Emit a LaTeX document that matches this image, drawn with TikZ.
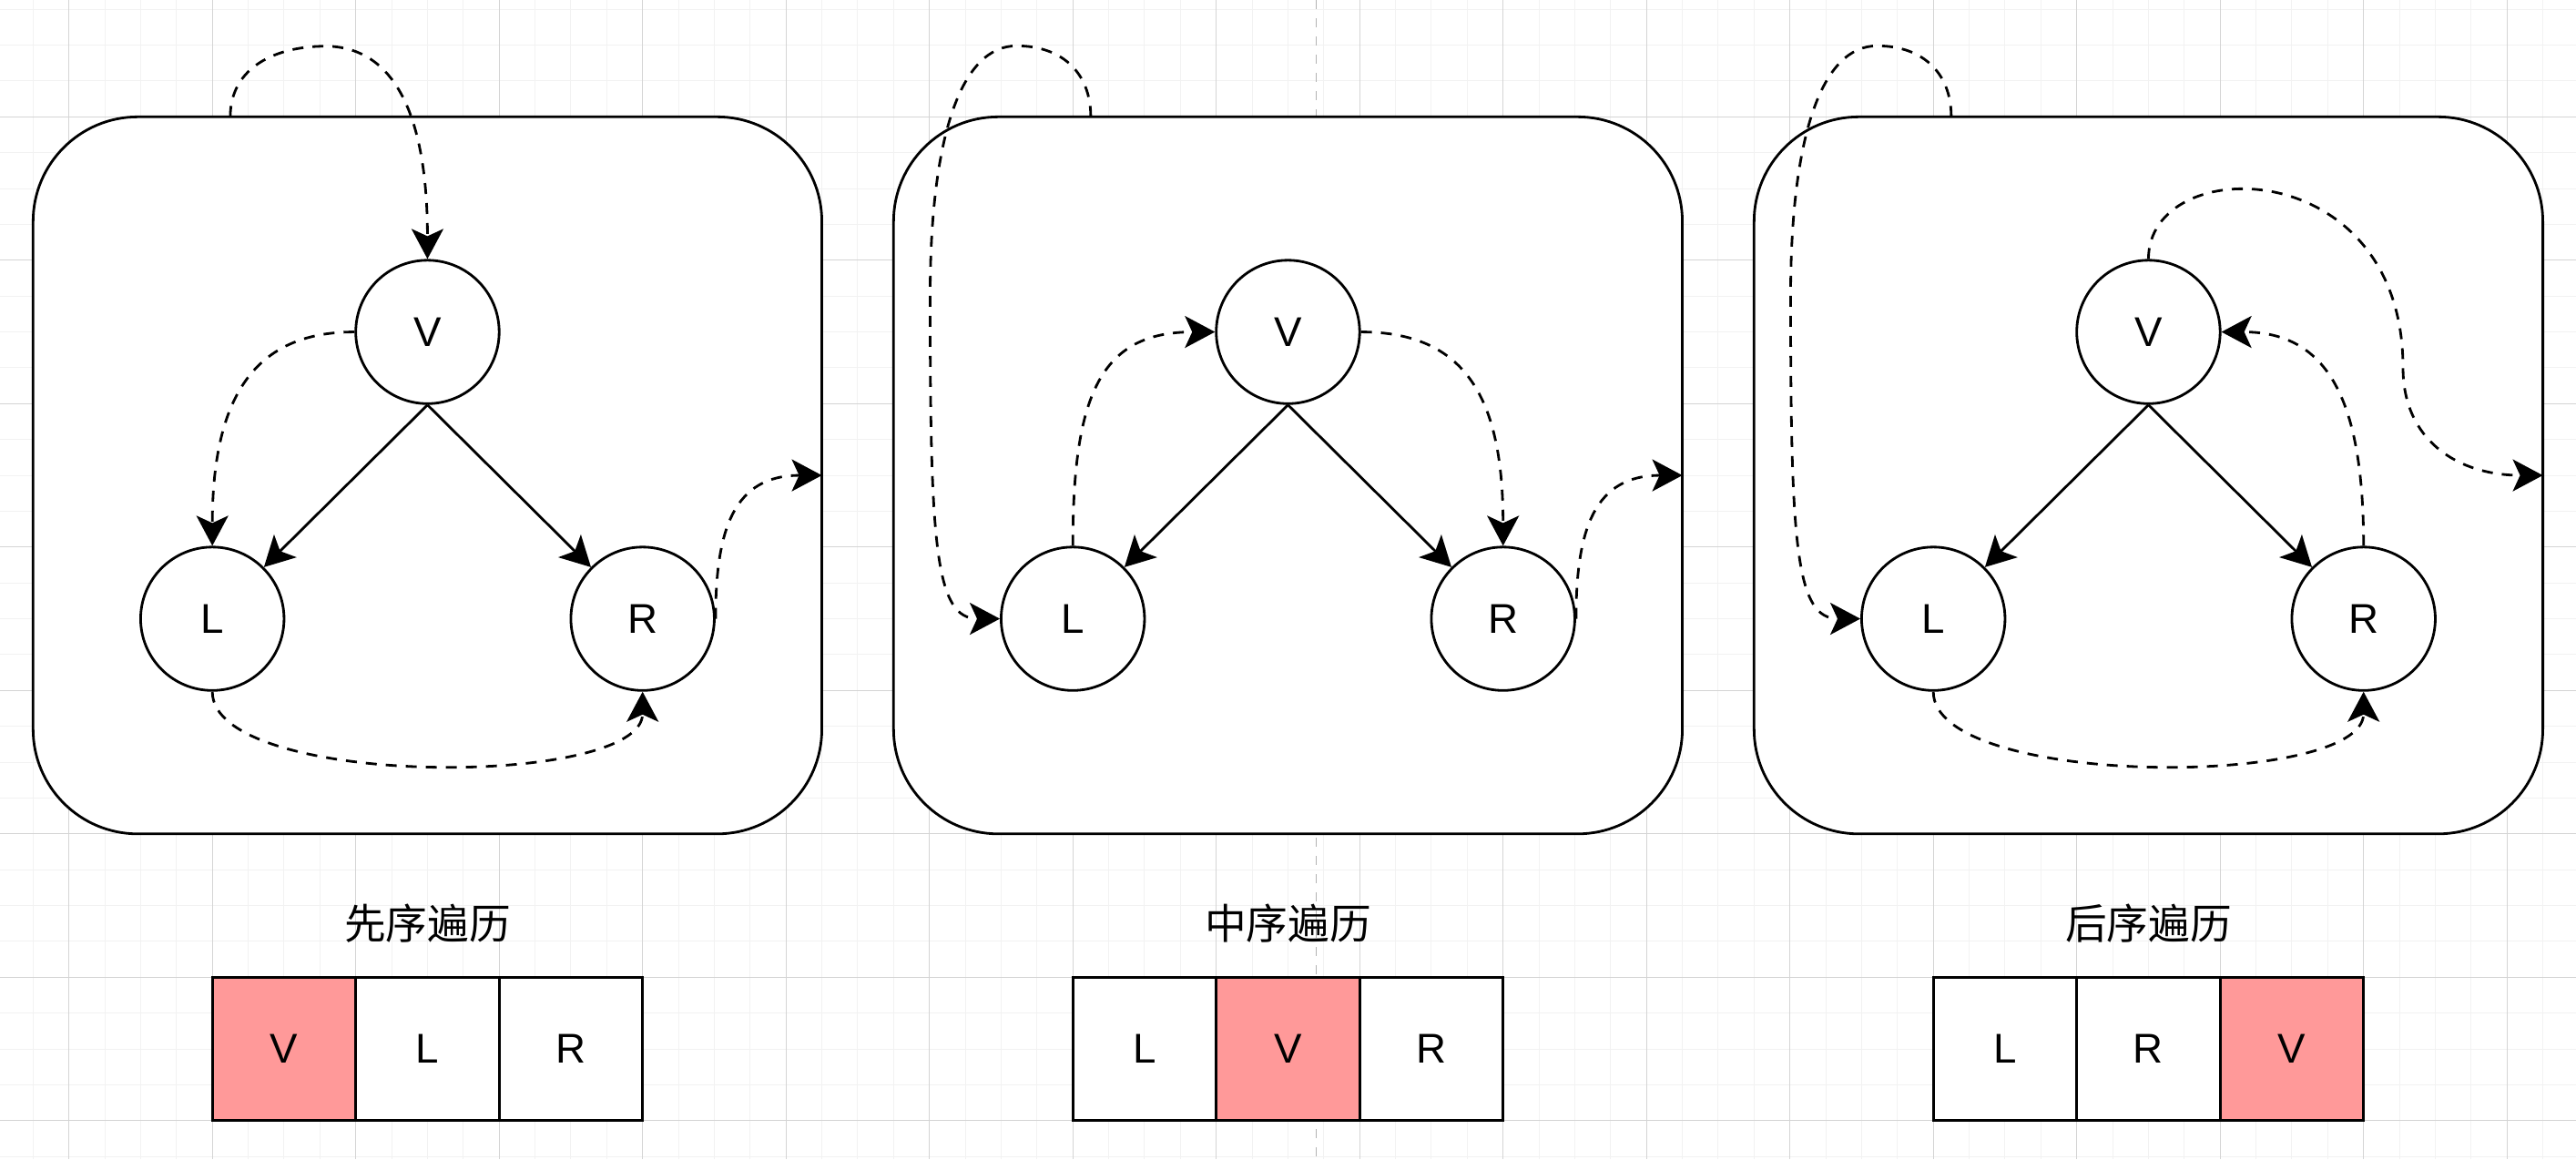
\documentclass[tikz,border=0pt]{standalone}
\usepackage{fontspec}
\setmainfont{Liberation Sans}
\newfontfamily\cjkfont{Noto Sans CJK SC}
\usetikzlibrary{arrows.meta}
\definecolor{vpink}{HTML}{FF9999}
\definecolor{gridminor}{HTML}{F2F2F2}
\definecolor{gridmajor}{HTML}{D4D4D4}
\tikzset{panel/.style={draw,line width=0.8pt,fill=white,rounded corners=1.15cm,minimum width=8.6625cm,minimum height=7.875cm,inner sep=0pt}}
\tikzset{vtx/.style={draw,circle,fill=white,line width=0.8pt,minimum size=1.575cm,inner sep=0pt,font=\fontsize{13}{15}\selectfont}}
\tikzset{cell/.style={draw,fill=white,line width=0.8pt,minimum size=1.575cm,inner sep=0pt,font=\fontsize{13}{15}\selectfont}}
\tikzset{hit/.style={cell,fill=vpink}}
\tikzset{ttl/.style={font=\cjkfont\fontsize{13}{15}\selectfont}}
\tikzset{link/.style={line width=0.8pt,-{Stealth[length=0.33cm,width=0.35cm,inset=0.08cm]}}}
\tikzset{walk/.style={link,dash pattern=on 0.12cm off 0.1cm}}
\begin{document}
\begin{tikzpicture}[x=0.39375cm,y=-0.39375cm]
    \useasboundingbox (-1.9225,-3.2584) rectangle (69.925,29.072);
    \foreach \i in {-1,...,69} \draw[gridminor,line width=0.3pt] (\i,-3.2584) -- (\i,29.072);
    \foreach \j in {-3,...,29} \draw[gridminor,line width=0.3pt] (-1.9225,\j) -- (69.925,\j);
    \foreach \i in {0,4,...,68} \draw[gridmajor,line width=0.3pt] (\i,-3.2584) -- (\i,29.072);
    \foreach \j in {0,4,...,28} \draw[gridmajor,line width=0.3pt] (-1.9225,\j) -- (69.925,\j);
    \draw[black!30,line width=0.3pt,dash pattern=on 0.1cm off 0.1cm] (34.78,-3.2584) -- (34.78,29.072);
    \begin{scope}
      \node[panel] (box1) at (10,10) {};
      \node[vtx] (v1) at (10,6) {V};
      \node[vtx] (l1) at (4,14) {L};
      \node[vtx] (r1) at (16,14) {R};
      \draw[link] (v1.south) -- (l1.north east);
      \draw[link] (v1.south) -- (r1.north west);
      \coordinate (in1) at (4.5,0);
      \coordinate (out1) at (21,10);
      \draw[walk] (in1) .. controls +(0,-1.4) and +(-1.35,0) .. (7.15,-1.97) .. controls +(1.65,0) and +(0,-4.5) .. (v1.north);
      \draw[walk] (v1.west) .. controls +(-2.65,0) and +(0,-4.34) .. (l1.north);
      \draw[walk] (l1.south) .. controls +(0,2.7) and +(0,2.7) .. (r1.south);
      \draw[walk] (r1.east) .. controls +(0,-2.53) and +(-2.44,0) .. (out1);
      \node[ttl] (title1) at (10,22.5) {先序遍历};
      \node[hit] (c11) at (6,26) {V};
      \node[cell] (c12) at (10,26) {L};
      \node[cell] (c13) at (14,26) {R};
    \end{scope}
    \begin{scope}[shift={(24,0)}]
      \node[panel] (box2) at (10,10) {};
      \node[vtx] (v2) at (10,6) {V};
      \node[vtx] (l2) at (4,14) {L};
      \node[vtx] (r2) at (16,14) {R};
      \draw[link] (v2.south) -- (l2.north east);
      \draw[link] (v2.south) -- (r2.north west);
      \coordinate (in2) at (4.5,0);
      \coordinate (out2) at (21,10);
      \draw[walk] (in2) .. controls +(0,-1.2) and +(1.3,0) .. (2.43,-1.98) .. controls +(-1.53,0) and +(0,-4.5) .. (0.02,5) .. controls +(0,7) and +(-1.8,0) .. (l2.west);
      \draw[walk] (l2.north) .. controls +(0,-4.2) and +(-3.2,0) .. (v2.west);
      \draw[walk] (v2.east) .. controls +(3,0) and +(0,-4) .. (r2.north);
      \draw[walk] (r2.east) .. controls +(0,-2.53) and +(-2.44,0) .. (out2);
      \node[ttl] (title2) at (10,22.5) {中序遍历};
      \node[cell] (c21) at (6,26) {L};
      \node[hit] (c22) at (10,26) {V};
      \node[cell] (c23) at (14,26) {R};
    \end{scope}
    \begin{scope}[shift={(48,0)}]
      \node[panel] (box3) at (10,10) {};
      \node[vtx] (v3) at (10,6) {V};
      \node[vtx] (l3) at (4,14) {L};
      \node[vtx] (r3) at (16,14) {R};
      \draw[link] (v3.south) -- (l3.north east);
      \draw[link] (v3.south) -- (r3.north west);
      \coordinate (in3) at (4.5,0);
      \coordinate (out3) at (21,10);
      \draw[walk] (in3) .. controls +(0,-1.2) and +(1.3,0) .. (2.43,-1.98) .. controls +(-1.53,0) and +(0,-4.5) .. (0.02,5) .. controls +(0,7) and +(-1.8,0) .. (l3.west);
      \draw[walk] (l3.south) .. controls +(0,2.7) and +(0,2.7) .. (r3.south);
      \draw[walk] (r3.north) .. controls +(0,-4) and +(3,0) .. (v3.east);
      \draw[walk] (v3.north) .. controls +(0,-3) and +(0,-6) .. (17.1,7) .. controls +(0,2) and +(-2.4,0) .. (out3);
      \node[ttl] (title3) at (10,22.5) {后序遍历};
      \node[cell] (c31) at (6,26) {L};
      \node[cell] (c32) at (10,26) {R};
      \node[hit] (c33) at (14,26) {V};
    \end{scope}
\end{tikzpicture}
\end{document}
